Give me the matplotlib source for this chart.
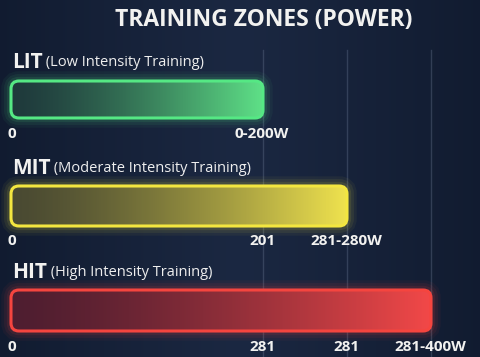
import matplotlib.pyplot as plt
import numpy as np
from matplotlib.patches import FancyBboxPatch
from matplotlib.colors import LinearSegmentedColormap

# data
zones = ["LIT", "MIT", "HIT"]
zone_names = ["(Low Intensity Training)", "(Moderate Intensity Training)", "(High Intensity Training)"]
bar_end = [3, 4, 5]  # position of bar end on the grid
tick_pos = [[0, 3], [0, 3, 4], [0, 3, 4, 5]]
tick_labels = [["0", "0-200W"], ["0", "201", "281-280W"], ["0", "281", "281", "281-400W"]]
bright = ["#5ee087", "#efe24e", "#f24848"]
dark = ["#1f3a3c", "#4a4a32", "#4f1e30"]
edge = ["#55e884", "#f3e640", "#f5453f"]
grid_lines = [3, 4, 5]

plt.rcParams['font.family'] = ['Open Sans', 'DejaVu Sans']

W, H = 480, 357
fig = plt.figure(figsize=(W / 100, H / 100), dpi=100)
ax = fig.add_axes([0, 0, 1, 1])
unit = 84.0
x0 = 11
ax.set_xlim(-x0 / unit, (W - x0) / unit)
ax.set_ylim(H, 0)
ax.axis('off')

# background
bg = np.linspace(0, 1, 200)
bgimg = np.outer(np.ones(50), 1 - 0.35 * np.abs(bg - 0.5) * 2)
bg_cmap = LinearSegmentedColormap.from_list("bg", ["#101a2e", "#1b2842"])
ax.imshow(bgimg, extent=(-x0 / unit, (W - x0) / unit, H, 0), cmap=bg_cmap,
          aspect='auto', zorder=0, vmin=0.6, vmax=1)

for g in grid_lines:
    ax.plot([g, g], [50, H], color="#6c7a95", lw=1, alpha=0.35, zorder=1)

ax.text((264 - x0) / unit, 20, "TRAINING ZONES (POWER)", color="#f2f2f0",
        fontsize=16.5, fontweight='bold', ha='center', va='center', zorder=5)

label_y = [63, 169, 272]
bar_top = [81, 186, 290]
bar_h = [37, 40, 41]
tick_y = [134, 241, 347]

r = 8 / unit
for i, z in enumerate(zones):
    t = ax.text(0.01, label_y[i], z, color="#f2f2f0", fontsize=15,
                fontweight='bold', ha='left', va='center', zorder=5)
    ax.annotate(" " + zone_names[i], xy=(1, 0.5), xycoords=t, va='center',
                ha='left', color="#eeeeee", fontsize=10.5, zorder=5)

    y0 = bar_top[i]
    h = bar_h[i]
    # glow
    for lw, a in [(14, 0.05), (10, 0.07), (6, 0.1)]:
        glow = FancyBboxPatch((0, y0), bar_end[i], h,
                              boxstyle=f"round,pad=0,rounding_size={r}",
                              mutation_aspect=unit, fc='none', ec=edge[i],
                              lw=lw, alpha=a, zorder=2)
        ax.add_patch(glow)
    patch = FancyBboxPatch((0, y0), bar_end[i], h,
                           boxstyle=f"round,pad=0,rounding_size={r}",
                           mutation_aspect=unit, fc='none', ec='none', zorder=3)
    ax.add_patch(patch)
    cmap = LinearSegmentedColormap.from_list(z, [dark[i], bright[i]])
    grad = np.outer(np.ones(10), np.linspace(0, 1, 256) ** 1.4)
    im = ax.imshow(grad, extent=(0, bar_end[i], y0 + h, y0), cmap=cmap,
                   aspect='auto', zorder=3)
    im.set_clip_path(patch)
    border = FancyBboxPatch((0, y0), bar_end[i], h,
                            boxstyle=f"round,pad=0,rounding_size={r}",
                            mutation_aspect=unit, fc='none', ec=edge[i],
                            lw=2.2, zorder=4)
    ax.add_patch(border)

    for p, lab in zip(tick_pos[i], tick_labels[i]):
        if p == 0:
            ax.text(-0.04, tick_y[i], lab, color="#f2f2f0", fontsize=11,
                    fontweight='bold', ha='left', va='center', zorder=5)
        else:
            ax.text(p - 0.01, tick_y[i], lab, color="#f2f2f0", fontsize=11,
                    fontweight='bold', ha='center', va='center', zorder=5)

fig.savefig("out.png", dpi=100, facecolor="#141f35")
